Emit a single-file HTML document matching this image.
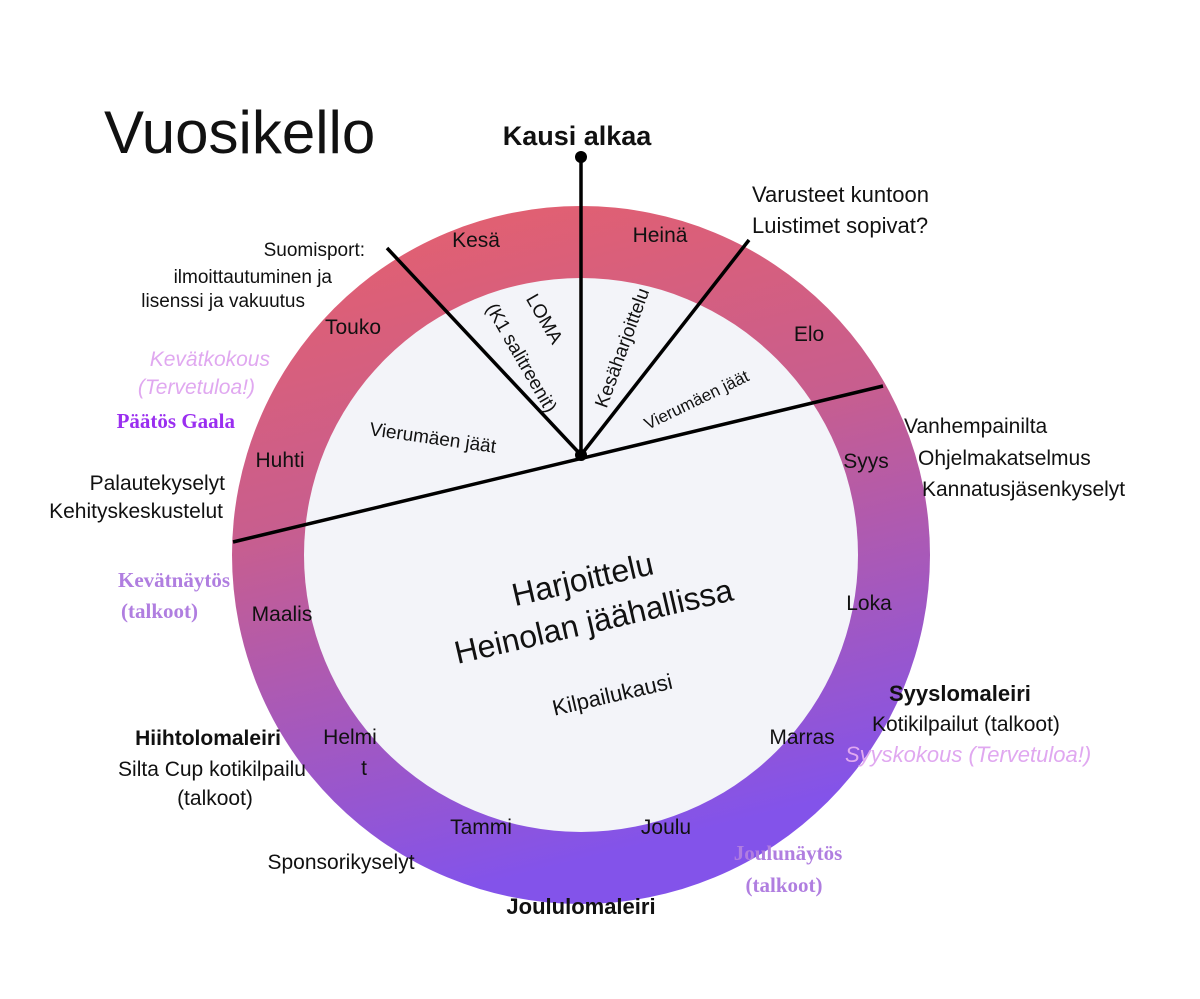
<!DOCTYPE html>
<html><head><meta charset="utf-8"><style>
body{margin:0;background:#fff;}
svg{display:block;}
text{font-family:"Liberation Sans","DejaVu Sans",sans-serif;fill:#111;}
.m{font-size:21px;text-anchor:middle;}
.s{font-size:21px;}
.d{font-family:"Liberation Serif",serif;font-weight:bold;}
</style></head><body>
<svg width="1200" height="999" viewBox="0 0 1200 999">
<defs>
<linearGradient id="g" x1="0" y1="0" x2="0.25" y2="1">
<stop offset="0" stop-color="#e8606a"/>
<stop offset="0.45" stop-color="#c85e8e"/>
<stop offset="1" stop-color="#8353ea"/>
</linearGradient>
</defs>
<circle cx="581" cy="555" r="349" fill="url(#g)"/>
<circle cx="581" cy="555" r="277" fill="#f3f4f9"/>
<g stroke="#000" stroke-width="3.5">
<line x1="581" y1="157" x2="581" y2="455"/>
<line x1="387" y1="248" x2="581" y2="455"/>
<line x1="749" y1="240" x2="581" y2="455"/>
<line x1="233" y1="542" x2="883" y2="386"/>
</g>
<circle cx="581" cy="157" r="6" fill="#000"/>
<circle cx="581" cy="455" r="6" fill="#000"/>

<text x="104" y="153" font-size="60">Vuosikello</text>
<text x="577" y="145" font-size="27" font-weight="bold" text-anchor="middle">Kausi alkaa</text>

<text class="m" x="476" y="247">Kesä</text>
<text class="m" x="660" y="242">Heinä</text>
<text class="m" x="809" y="341">Elo</text>
<text class="m" x="866" y="468">Syys</text>
<text class="m" x="869" y="610">Loka</text>
<text class="m" x="802" y="744">Marras</text>
<text class="m" x="666" y="834">Joulu</text>
<text class="m" x="481" y="834">Tammi</text>
<text class="m" x="350" y="744">Helmi</text>
<text class="m" x="364" y="775">t</text>
<text class="m" x="282" y="621">Maalis</text>
<text class="m" x="280" y="467">Huhti</text>
<text class="m" x="353" y="334">Touko</text>

<text font-size="19" text-anchor="middle" transform="translate(539,322) rotate(60)">LOMA</text>
<text font-size="19" text-anchor="middle" transform="translate(516,361) rotate(60)">(K1 salitreenit)</text>
<text font-size="19" text-anchor="middle" transform="translate(628,350) rotate(-70)">Kesäharjoittelu</text>
<text font-size="17" text-anchor="middle" transform="translate(699,405) rotate(-26)">Vierumäen jäät</text>
<text font-size="19" text-anchor="middle" transform="translate(432,444) rotate(8)">Vierumäen jäät</text>
<text font-size="32" text-anchor="middle" transform="translate(585,590) rotate(-13)">Harjoittelu</text>
<text font-size="32" text-anchor="middle" transform="translate(596,632) rotate(-13)">Heinolan jäähallissa</text>
<text font-size="22" text-anchor="middle" transform="translate(614,702) rotate(-13)">Kilpailukausi</text>

<text font-size="22" x="752" y="202">Varusteet kuntoon</text>
<text font-size="22" x="752" y="233">Luistimet sopivat?</text>
<text font-size="19" x="365" y="256" text-anchor="end">Suomisport:</text>
<text font-size="19" x="332" y="283" text-anchor="end">ilmoittautuminen ja</text>
<text font-size="19" x="305" y="307" text-anchor="end">lisenssi ja vakuutus</text>
<text font-size="21" x="270" y="366" text-anchor="end" font-style="italic" style="fill:#e0a8f0">Kevätkokous</text>
<text font-size="21" x="255" y="394" text-anchor="end" font-style="italic" style="fill:#e0a8f0">(Tervetuloa!)</text>
<text class="d" font-size="21" x="235" y="428" text-anchor="end" style="fill:#9a2ef0">Päätös Gaala</text>
<text font-size="21" x="225" y="490" text-anchor="end">Palautekyselyt</text>
<text font-size="21" x="223" y="518" text-anchor="end">Kehityskeskustelut</text>
<text class="d" font-size="21" x="230" y="587" text-anchor="end" style="fill:#b07ee0">Kevätnäytös</text>
<text class="d" font-size="21" x="198" y="618" text-anchor="end" style="fill:#b07ee0">(talkoot)</text>
<text font-size="21" font-weight="bold" x="208" y="745" text-anchor="middle">Hiihtolomaleiri</text>
<text font-size="21" x="212" y="776" text-anchor="middle">Silta Cup kotikilpailu</text>
<text font-size="21" x="215" y="805" text-anchor="middle">(talkoot)</text>
<text font-size="21" x="341" y="869" text-anchor="middle">Sponsorikyselyt</text>
<text font-size="22" font-weight="bold" x="581" y="914" text-anchor="middle">Joululomaleiri</text>
<text class="d" font-size="21" x="788" y="860" text-anchor="middle" style="fill:#b07ee0">Joulunäytös</text>
<text class="d" font-size="21" x="784" y="892" text-anchor="middle" style="fill:#b07ee0">(talkoot)</text>
<text font-size="22" font-weight="bold" x="889" y="701">Syyslomaleiri</text>
<text font-size="21" x="872" y="731">Kotikilpailut (talkoot)</text>
<text font-size="22" x="845" y="762" font-style="italic" style="fill:#e0a8f0">Syyskokous (Tervetuloa!)</text>
<text font-size="21" x="904" y="433">Vanhempainilta</text>
<text font-size="21" x="918" y="465">Ohjelmakatselmus</text>
<text font-size="21" x="922" y="496">Kannatusjäsenkyselyt</text>
</svg>
</body></html>
